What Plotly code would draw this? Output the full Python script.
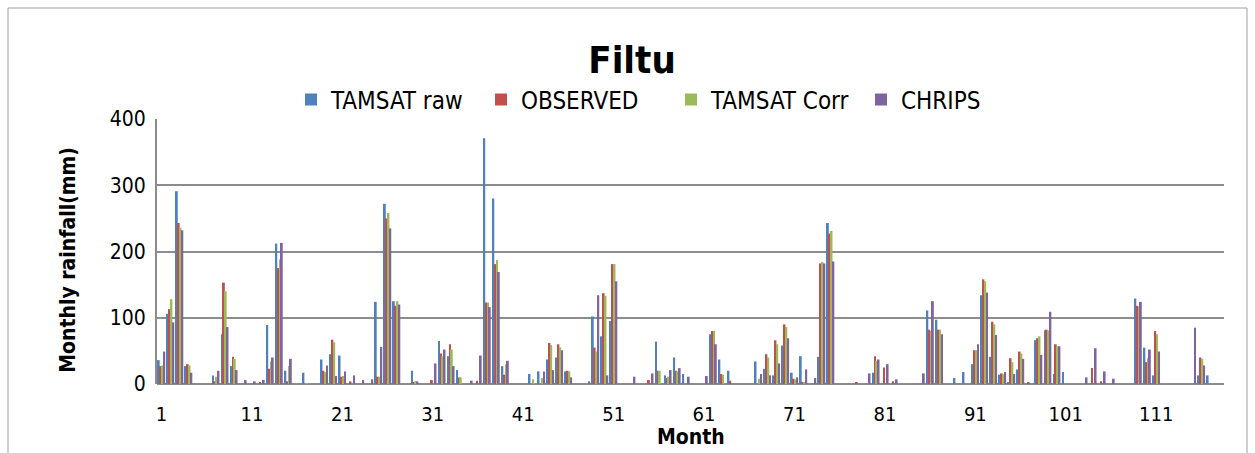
import plotly.graph_objects as go

# Monthly rainfall at Filtu (mm), months 1..118
months = list(range(1, 119))

tamsat_raw = [
    36, 106, 291, 27, 0, 0, 13, 75, 27, 0,
    0, 0, 89, 212, 20, 0, 17, 0, 37, 45,
    43, 0, 0, 0, 124, 272, 125, 0, 20, 0,
    0, 65, 42, 21, 0, 0, 371, 280, 27, 0,
    0, 15, 19, 37, 40, 19, 0, 0, 102, 72,
    95, 0, 0, 0, 0, 64, 13, 40, 15, 0,
    0, 75, 37, 20, 0, 0, 34, 23, 13, 58,
    17, 42, 0, 41, 243, 0, 0, 0, 0, 17,
    0, 0, 0, 0, 0, 111, 97, 0, 9, 18,
    30, 134, 41, 14, 2, 22, 0, 66, 81, 15,
    18, 0, 0, 0, 0, 0, 0, 0, 129, 55,
    13, 0, 0, 0, 0, 13, 13, 0,
]
observed = [
    27, 113, 243, 30, 0, 0, 4, 153, 41, 0,
    0, 3, 23, 175, 4, 0, 0, 0, 20, 67,
    11, 4, 0, 0, 11, 250, 118, 0, 2, 0,
    6, 46, 60, 10, 0, 5, 123, 181, 14, 0,
    0, 0, 0, 62, 60, 20, 0, 0, 55, 137,
    181, 0, 0, 0, 6, 20, 9, 20, 0, 0,
    0, 80, 15, 5, 0, 0, 0, 45, 66, 90,
    8, 3, 0, 182, 227, 0, 0, 2, 0, 42,
    25, 4, 0, 0, 0, 82, 82, 0, 0, 0,
    51, 158, 94, 16, 39, 49, 2, 69, 82, 60,
    0, 0, 0, 24, 4, 0, 0, 0, 118, 33,
    80, 0, 0, 0, 0, 40, 0, 0,
]
tamsat_corr = [
    28, 128, 236, 28, 0, 0, 11, 140, 38, 0,
    0, 0, 34, 188, 27, 0, 1, 0, 18, 63,
    12, 0, 0, 0, 11, 258, 125, 0, 4, 0,
    0, 42, 52, 10, 0, 0, 123, 187, 30, 0,
    0, 7, 9, 59, 55, 19, 0, 0, 49, 133,
    181, 0, 0, 0, 0, 20, 11, 19, 0, 0,
    0, 80, 14, 0, 0, 0, 8, 40, 60, 86,
    7, 3, 0, 184, 231, 0, 0, 0, 0, 35,
    0, 0, 0, 0, 0, 80, 82, 0, 0, 0,
    51, 155, 90, 15, 33, 46, 0, 72, 81, 57,
    0, 0, 0, 0, 0, 0, 0, 0, 117, 39,
    75, 0, 0, 0, 0, 38, 0, 0,
]
chirps = [
    49, 93, 232, 17, 0, 0, 20, 86, 21, 6,
    4, 6, 40, 213, 38, 0, 0, 0, 28, 12,
    19, 13, 6, 7, 56, 235, 120, 0, 4, 0,
    31, 52, 27, 0, 5, 43, 116, 169, 35, 0,
    0, 0, 19, 21, 51, 10, 0, 4, 134, 13,
    155, 0, 11, 0, 16, 0, 21, 24, 11, 0,
    12, 60, 0, 0, 0, 0, 15, 13, 31, 69,
    10, 22, 9, 182, 185, 0, 0, 0, 16, 37,
    30, 7, 0, 0, 16, 125, 75, 0, 0, 0,
    60, 138, 74, 18, 15, 38, 0, 44, 109, 57,
    0, 0, 10, 54, 19, 8, 0, 0, 124, 52,
    49, 0, 0, 0, 85, 28, 0, 0,
]

series = [
    ("TAMSAT raw", tamsat_raw, "#4F81BD"),
    ("OBSERVED", observed, "#C0504D"),
    ("TAMSAT Corr", tamsat_corr, "#9BBB59"),
    ("CHRIPS", chirps, "#8064A2"),
]

tick_months = list(range(1, 119, 10))

FONT = "Liberation Sans Narrow, DejaVu Sans Condensed, Arial Narrow, sans-serif"
GRID = "#8C8C8C"

fig = go.Figure()
for name, values, color in series:
    fig.add_trace(go.Bar(x=months, y=values, name=name,
                         marker=dict(color=color, line=dict(width=0))))

fig.update_layout(
    width=1255, height=453,
    margin=dict(l=157, r=31, t=119, b=69),
    paper_bgcolor="white", plot_bgcolor="white",
    barmode="group", bargap=0.19, bargroupgap=0,
    font=dict(family=FONT, size=20, color="black"),
    title=dict(text="<b>Filtu</b>", x=0.5036, xref="container", xanchor="center",
               y=0.8675, yref="container", yanchor="middle",
               font=dict(family=FONT, size=38, color="black")),
    legend=dict(orientation="h", x=(291 - 157) / 1067, xanchor="left",
                y=1.072, yanchor="middle",
                font=dict(family=FONT, size=24), itemwidth=30,
                entrywidth=145, entrywidthmode="pixels",
                bgcolor="rgba(0,0,0,0)", traceorder="normal"),
    xaxis=dict(range=[0.5, 118.5], tickmode="array", tickvals=tick_months,
               ticktext=[str(t) for t in tick_months],
               showgrid=False, zeroline=False, showline=False,
               ticks="outside", ticklen=12, tickcolor="rgba(0,0,0,0)",
               tickfont=dict(family=FONT, size=20)),
    yaxis=dict(range=[0, 400], tickmode="array", tickvals=[0, 100, 200, 300, 400],
               showgrid=True, gridcolor=GRID, gridwidth=2,
               zeroline=True, zerolinecolor=GRID, zerolinewidth=2,
               showline=True, linecolor=GRID, linewidth=2,
               ticks="outside", ticklen=5, tickcolor="rgba(0,0,0,0)",
               tickfont=dict(family=FONT, size=21)),
    annotations=[
        dict(text="<b>Monthly rainfall(mm)</b>", textangle=-90,
             xref="paper", yref="paper", x=-0.0831, y=0.47,
             xanchor="center", yanchor="middle", showarrow=False,
             font=dict(family=FONT, size=21)),
        dict(text="<b>Month</b>", xref="paper", yref="paper", x=0.5, y=-0.2,
             xanchor="center", yanchor="middle", showarrow=False,
             font=dict(family=FONT, size=21)),
    ],
    shapes=[
        # chart-area border
        dict(type="rect", xref="paper", yref="paper",
             x0=(8 - 157) / 1067, x1=(1247 - 157) / 1067,
             y0=(384 - 470) / 265, y1=(384 - 8) / 265,
             line=dict(color="#A0A0A0", width=1), layer="below"),
    ],
)

fig.write_html("out.html")
